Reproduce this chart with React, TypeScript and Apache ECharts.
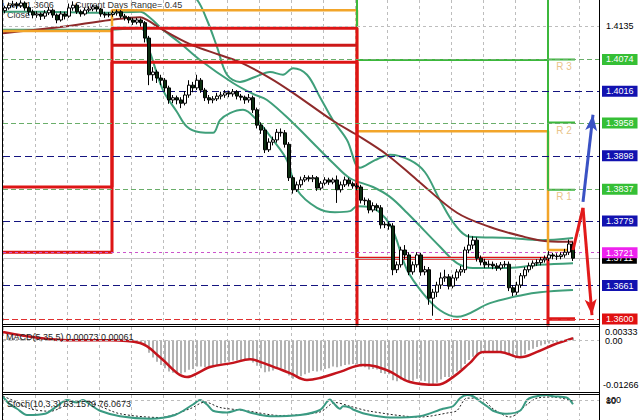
import React, { useEffect, useRef } from "react";
import * as echarts from "echarts";

// OHLC rows: [open, close, low, high]
const candles: number[][] = [
  [1.4163, 1.4168, 1.4158, 1.4172], [1.4168, 1.4173, 1.4165, 1.4178], [1.4173, 1.4175, 1.4169, 1.4181],
  [1.4175, 1.4172, 1.4166, 1.4179], [1.4172, 1.4177, 1.4168, 1.4182], [1.4177, 1.4168, 1.4163, 1.418],
  [1.4168, 1.4161, 1.4155, 1.4171], [1.4161, 1.4155, 1.4149, 1.4165], [1.4155, 1.4157, 1.415, 1.4162],
  [1.4157, 1.4153, 1.4146, 1.416], [1.4153, 1.4159, 1.4148, 1.4164], [1.4159, 1.4164, 1.4155, 1.417],
  [1.4164, 1.4155, 1.415, 1.4167], [1.4155, 1.4146, 1.414, 1.4158], [1.4146, 1.4157, 1.4143, 1.4162],
  [1.4157, 1.4153, 1.4147, 1.4161], [1.4153, 1.4168, 1.415, 1.4176], [1.4168, 1.4173, 1.4163, 1.418],
  [1.4173, 1.4161, 1.4157, 1.4176], [1.4161, 1.4157, 1.4152, 1.4165], [1.4157, 1.4164, 1.4154, 1.4168],
  [1.4164, 1.4166, 1.416, 1.4171], [1.4166, 1.417, 1.4162, 1.4174], [1.417, 1.4166, 1.4161, 1.4173],
  [1.4166, 1.4157, 1.4152, 1.4168], [1.4157, 1.4155, 1.415, 1.4161], [1.4155, 1.4156, 1.4151, 1.416],
  [1.4156, 1.4159, 1.4152, 1.4163], [1.4159, 1.4161, 1.4154, 1.4165], [1.4161, 1.4153, 1.4149, 1.4164],
  [1.4153, 1.415, 1.4145, 1.4157], [1.415, 1.4146, 1.414, 1.4153], [1.4146, 1.4142, 1.4137, 1.415],
  [1.4142, 1.4146, 1.4138, 1.415], [1.4146, 1.4141, 1.4134, 1.4149], [1.4141, 1.4113, 1.4105, 1.4144],
  [1.4113, 1.4046, 1.4027, 1.4117], [1.4046, 1.4051, 1.4035, 1.406], [1.4051, 1.404, 1.4031, 1.4055],
  [1.404, 1.4036, 1.4027, 1.4046], [1.4036, 1.4022, 1.4015, 1.404], [1.4022, 1.4, 1.3993, 1.4026],
  [1.4, 1.4004, 1.3994, 1.4009], [1.4004, 1.4, 1.3992, 1.4008], [1.4, 1.3994, 1.3985, 1.4005],
  [1.3994, 1.4009, 1.399, 1.4016], [1.4009, 1.4027, 1.4004, 1.4036], [1.4027, 1.4022, 1.4014, 1.4033],
  [1.4022, 1.4036, 1.4018, 1.4046], [1.4036, 1.4018, 1.4013, 1.404], [1.4018, 1.4004, 1.3998, 1.4022],
  [1.4004, 1.4, 1.3993, 1.4009], [1.4, 1.4002, 1.3994, 1.4007], [1.4002, 1.4007, 1.3998, 1.4013],
  [1.4007, 1.4009, 1.4001, 1.4015], [1.4009, 1.4013, 1.4004, 1.4018], [1.4013, 1.4011, 1.4005, 1.4017],
  [1.4011, 1.4015, 1.4006, 1.402], [1.4015, 1.4007, 1.4001, 1.4018], [1.4007, 1.4005, 1.3999, 1.4011],
  [1.4005, 1.4, 1.3993, 1.4008], [1.4, 1.4004, 1.3995, 1.4011], [1.4004, 1.3982, 1.3976, 1.4008],
  [1.3982, 1.3954, 1.3948, 1.3986], [1.3954, 1.3945, 1.3938, 1.3959], [1.3945, 1.3909, 1.3903, 1.395],
  [1.3909, 1.3923, 1.3905, 1.393], [1.3923, 1.3927, 1.3917, 1.3933], [1.3927, 1.3941, 1.3922, 1.3947],
  [1.3941, 1.394, 1.3933, 1.3948], [1.394, 1.3919, 1.3913, 1.3945], [1.3919, 1.3858, 1.3852, 1.3923],
  [1.3858, 1.3836, 1.3829, 1.3862], [1.3836, 1.3845, 1.3832, 1.3851], [1.3845, 1.3854, 1.384, 1.386],
  [1.3854, 1.3858, 1.385, 1.3863], [1.3858, 1.3856, 1.3851, 1.3862], [1.3856, 1.3858, 1.385, 1.3863],
  [1.3858, 1.3839, 1.3834, 1.3861], [1.3839, 1.3848, 1.3835, 1.3852], [1.3848, 1.3854, 1.3844, 1.3859],
  [1.3854, 1.385, 1.3845, 1.3858], [1.385, 1.3854, 1.3846, 1.3858], [1.3854, 1.3836, 1.3812, 1.3862],
  [1.3836, 1.3845, 1.3831, 1.3851], [1.3845, 1.3854, 1.3841, 1.386], [1.3854, 1.3847, 1.3842, 1.3858],
  [1.3847, 1.3843, 1.3838, 1.3851], [1.3843, 1.3841, 1.3835, 1.3848], [1.3841, 1.3817, 1.3811, 1.3845],
  [1.3817, 1.3816, 1.3808, 1.3822], [1.3816, 1.3799, 1.3793, 1.382], [1.3799, 1.3807, 1.3795, 1.3813],
  [1.3807, 1.3803, 1.3797, 1.3811], [1.3803, 1.3772, 1.3765, 1.3808], [1.3772, 1.3773, 1.3766, 1.3778],
  [1.3773, 1.377, 1.3763, 1.3777], [1.377, 1.369, 1.368, 1.3775], [1.369, 1.3699, 1.3684, 1.3705],
  [1.3699, 1.3726, 1.3694, 1.3732], [1.3726, 1.3717, 1.3709, 1.3735], [1.3717, 1.3686, 1.368, 1.3722],
  [1.3686, 1.3699, 1.3681, 1.3705], [1.3699, 1.3717, 1.3694, 1.3722], [1.3717, 1.3686, 1.3679, 1.3721],
  [1.3686, 1.369, 1.368, 1.3697], [1.369, 1.3638, 1.3626, 1.3695], [1.3638, 1.3649, 1.3606, 1.3655],
  [1.3649, 1.3662, 1.364, 1.3668], [1.3662, 1.3675, 1.3655, 1.3685], [1.3675, 1.3677, 1.3668, 1.369],
  [1.3677, 1.366, 1.3654, 1.3682], [1.366, 1.3675, 1.3656, 1.3681], [1.3675, 1.3686, 1.367, 1.3691],
  [1.3686, 1.369, 1.3679, 1.3697], [1.369, 1.3726, 1.3684, 1.3732], [1.3726, 1.3735, 1.372, 1.3755],
  [1.3735, 1.3744, 1.3728, 1.3751], [1.3744, 1.3711, 1.3705, 1.3749], [1.3711, 1.3704, 1.3698, 1.3716],
  [1.3704, 1.3699, 1.3693, 1.371], [1.3699, 1.37, 1.3694, 1.3707], [1.37, 1.3697, 1.3691, 1.3705],
  [1.3697, 1.3693, 1.3688, 1.3702], [1.3693, 1.3699, 1.3689, 1.3704], [1.3699, 1.37, 1.3694, 1.3706],
  [1.37, 1.3657, 1.3651, 1.3705], [1.3657, 1.3649, 1.3642, 1.3662], [1.3649, 1.3662, 1.3644, 1.3668],
  [1.3662, 1.3679, 1.3657, 1.3684], [1.3679, 1.369, 1.3674, 1.3695], [1.369, 1.3697, 1.3685, 1.3703],
  [1.3697, 1.3702, 1.3692, 1.3707], [1.3702, 1.3703, 1.3697, 1.3709], [1.3703, 1.3708, 1.3698, 1.3713],
  [1.3708, 1.3711, 1.3703, 1.3716], [1.3711, 1.3717, 1.3706, 1.3724], [1.3717, 1.3715, 1.3709, 1.3721],
  [1.3715, 1.3714, 1.3708, 1.372], [1.3714, 1.3717, 1.3709, 1.3722], [1.3717, 1.3722, 1.3712, 1.3728],
  [1.3722, 1.3737, 1.3717, 1.3745], [1.3737, 1.3711, 1.3706, 1.3741],
];
const slotCount = 149;
const categories = Array.from({ length: slotCount }, (_, i) => String(i + 1));

// indicator lines as [slot position, value]
const maLine = [
  [0, 1.4122], [14.25, 1.4133], [26.75, 1.4146], [34.25, 1.4151], [36, 1.4146], [40, 1.4128],
  [46.75, 1.4102], [54.25, 1.4082], [59.25, 1.4069], [66.75, 1.404], [72.5, 1.4013], [82.5, 1.3962],
  [88.5, 1.3936], [96, 1.39], [103.5, 1.3854], [113.5, 1.3794], [121.75, 1.3768], [129.25, 1.3752],
  [136, 1.3742], [142.5, 1.3741],
];
const bandUpper = [
  [0, 1.4237], [24.25, 1.4237], [36.75, 1.4228], [44.25, 1.421], [48.5, 1.4183], [51, 1.4146],
  [53.5, 1.4097], [56, 1.4046], [59.25, 1.4033], [63, 1.4042], [66.75, 1.4051], [70, 1.4046],
  [72.5, 1.4058], [76, 1.4046], [79.25, 1.4005], [82.5, 1.3963], [86, 1.3927], [89.25, 1.3876],
  [93, 1.389], [96.75, 1.39], [101.75, 1.389], [105.5, 1.3868], [109.25, 1.3817], [113, 1.3772],
  [116.75, 1.375], [126.75, 1.3748], [134.25, 1.3744], [142.5, 1.3748],
];
const bandMiddle = [
  [0, 1.4161], [9.25, 1.4161], [24.25, 1.4159], [34.25, 1.4161], [36.75, 1.415], [40, 1.4128],
  [44.25, 1.4104], [49.25, 1.4073], [57.5, 1.4031], [62.5, 1.4011], [66, 1.4], [72.5, 1.3958],
  [78.5, 1.3914], [82.5, 1.3885], [86.75, 1.3857], [92.5, 1.3841], [96.75, 1.3823], [101, 1.3794],
  [109.25, 1.3732], [113.5, 1.3702], [117.5, 1.3693], [126, 1.3693], [134.25, 1.3699], [142.5, 1.3702],
];
const bandLower = [
  [0, 1.4128], [24.25, 1.4128], [34.25, 1.4131], [36.75, 1.4087], [40, 1.4018], [43.5, 1.3978],
  [46, 1.3951], [49.25, 1.3941], [52.5, 1.394], [54.25, 1.3963], [56.75, 1.3976], [60, 1.3982],
  [63.5, 1.3963], [67.5, 1.3927], [71, 1.389], [73.5, 1.3836], [78.5, 1.3803], [83, 1.3795],
  [86.75, 1.3797], [88.5, 1.3806], [91.75, 1.3804], [96.75, 1.3772], [101, 1.369], [105, 1.3647],
  [109.25, 1.3616], [113.5, 1.3604], [121.75, 1.3629], [130, 1.3644], [134.25, 1.3649], [142.5, 1.3653],
];

// daily level steps
const dayEdges = [0, 27.25, 88.5, 136.25, 143];
const redHigh = [1.3722, 1.4131, 1.358, 1.36];
const redLow = [1.3841, 1.4069, 1.3711, 1.36];
const redMid = [[27.25, 1.41], [88.5, 1.41]];
const orangeLevels = [1.4126, 1.4164, 1.3943, 1.3726];
const pivotEdges = [80, 88.5, 136.25, 143];
const r1Levels = [1.423, 1.4073, 1.3836];
const r2Levels = [1.426, 1.426, 1.3959];
const r3Levels = [1.43, 1.43, 1.4074];
const rNames = ["R 3", "R 2", "R 1"];
const rPrices = [1.4074, 1.3958, 1.3837];
const rLabelSlot = 140.25;

// horizontal price levels
const gridLevel = 1.4135;
const blueLevels = [1.4016, 1.3898, 1.3779, 1.3661];
const greenLevels = [1.4074, 1.3958, 1.3837];
const bidLevel = 1.3711;
const magentaLevel = 1.3721;
const lowLevel = 1.36;

// drawn arrows
const blueArrow = [[145, 1.3814], [147.5, 1.3973]];
const redArrow = [[142.5, 1.3726], [145, 1.3803], [147.25, 1.3607]];

// MACD
const macdHist = [
  0.0004, 0.0005, 0.0006, 0.0005, 0.0006, 0.0004, 0.0002, 0.0, -0.0001, -0.0002, 0.0, 0.0002, 0.0001,
  -0.0002, 0.0, 0.0, 0.0003, 0.0005, 0.0003, 0.0001, 0.0002, 0.0003, 0.0004, 0.0003, 0.0, -0.0001,
  -0.0001, 0.0, 0.0001, 0.0, -0.0001, -0.0002, -0.0003, -0.0002,
  -0.0004, -0.001, -0.003, -0.0042, -0.0052, -0.006, -0.0068, -0.0076, -0.0079, -0.0081,
  -0.0082, -0.0078, -0.0072, -0.007, -0.0064, -0.0064, -0.0066, -0.0066, -0.0064, -0.006,
  -0.0057, -0.0054, -0.0052, -0.0049, -0.0049, -0.0049, -0.005, -0.0048, -0.0054, -0.0062,
  -0.0068, -0.0078, -0.0076, -0.0074, -0.007, -0.0068, -0.0072, -0.0086, -0.0094, -0.0092,
  -0.0088, -0.0083, -0.0079, -0.0075, -0.0076, -0.0074, -0.007, -0.0068, -0.0064, -0.0066,
  -0.0063, -0.006, -0.0059, -0.0058, -0.0058, -0.0064, -0.0066, -0.0071, -0.007, -0.0071,
  -0.008, -0.0082, -0.0083, -0.0098, -0.01, -0.0096, -0.0095, -0.0101, -0.0099, -0.0094,
  -0.0099, -0.01, -0.0112, -0.011, -0.0104, -0.0096, -0.009, -0.009, -0.0084, -0.0076,
  -0.007, -0.0058, -0.0048, -0.004, -0.0036, -0.0032, -0.003, -0.0029, -0.0028, -0.0028,
  -0.0029, -0.003, -0.0034, -0.004, -0.0041, -0.0038, -0.0034, -0.0024, -0.002, -0.0016,
  -0.0012, -0.0009, -0.0007, -0.0005, -0.0004, -0.0002, 0.0001, 0.0005, 0.00073,
];
const macdSignal = [
  [0, 0.0021], [16, 0.0001], [26.75, 0.0001], [34.25, -0.0006], [39.25, -0.0041], [43.5, -0.008],
  [46, -0.009], [49.25, -0.0077], [51.75, -0.0065], [57.5, -0.0055], [61.75, -0.0046], [65, -0.0055],
  [68.5, -0.0068], [71.75, -0.008], [76, -0.0097], [79.25, -0.0092], [84.25, -0.0077], [90, -0.006],
  [96, -0.0073], [101.75, -0.0102], [108.5, -0.0109], [112.5, -0.009], [116.75, -0.0055],
  [120, -0.0028], [124.25, -0.0028], [129.25, -0.0041], [133.5, -0.0028], [137.5, -0.0011],
  [142.5, 0.0006],
];
const macdMax = 0.00333;
const macdMin = -0.01266;

// Stochastic
const stochMain = [
  [0, 92], [1.75, 62], [3.5, 45], [6, 20], [10.5, 25], [13.5, 55], [16, 80], [18.5, 70], [20, 80],
  [21.75, 62], [24.25, 37], [29.25, 15], [36.75, 5], [43, 20], [47.5, 62], [49.25, 80], [51, 62],
  [52.5, 37], [56, 30], [59.25, 42], [61.75, 30], [66.75, 15], [74.25, 20], [79.25, 40], [81.75, 82],
  [82.5, 70], [84.25, 45], [85, 55], [86.75, 50], [87.5, 42], [90.5, 25], [96.75, 10], [104.25, 15],
  [110, 45], [112.5, 55], [114.25, 87], [116, 100], [117.5, 95], [119.25, 75], [121, 55], [122.5, 37],
  [125.5, 25], [129.25, 37], [131, 80], [132.5, 92], [136, 100], [137.5, 95], [140, 92], [141.25, 87],
  [142.5, 63.16],
];
const stochSignal = [
  [0, 95], [3, 75], [6.75, 45], [11.75, 35], [16.75, 65], [20.5, 75], [24.25, 55], [29.25, 25],
  [39.25, 10], [46.75, 45], [50.5, 72], [54.25, 50], [60.5, 38], [69.25, 18], [79.25, 32], [83, 70],
  [86.75, 55], [91.75, 35], [104.25, 12], [111.75, 30], [113.5, 37.5], [116, 87.5], [119.25, 87.5],
  [122.5, 45], [126.75, 12], [131, 62], [133.5, 87.5], [137.5, 92], [142.5, 76.07],
];
const stochLevel = 80;

const headerLow = "Low= 1.3606";
const headerRange = "Current Days Range= 0.45";
const headerClose = "Close";
const macdTitle = "MACD(5,35,5) 0.00073 0.00061";
const stochTitle = "Stoch(10,3,3) 63.1579 76.0673";
const macdTicks = ["0.00333", "0.00", "-0.01266"];
const stochTicks = ["100", "80"];

const FONT = "Liberation Sans";

function stepPoints(edges: number[], levels: number[]) {
  return edges.map((e, k) => [e, levels[Math.min(k, levels.length - 1)]]);
}

function levelItem(v: number, color: string, dash: any, bg: string | null, textColor = "#ffffff") {
  return {
    yAxis: v,
    name: v.toFixed(4),
    lineStyle: { color, type: dash, width: 1 },
    label: {
      show: true,
      position: "end",
      formatter: "{b}",
      distance: 3,
      color: textColor,
      backgroundColor: bg || "transparent",
      padding: [1, 4, 0, 4],
      fontSize: 9,
      lineHeight: 10,
      fontFamily: FONT,
    },
  };
}

export default function App() {
  const ref = useRef<HTMLDivElement>(null);
  useEffect(() => {
    if (!ref.current) return;
    const chart = echarts.init(ref.current, null, { renderer: "svg" });
    const gridLine = { color: "#bdbdbd", type: [3, 3] as any, width: 1 };
    const slotAxis = (gridIndex: number) => ({
      type: "value",
      gridIndex,
      min: 0,
      max: slotCount,
      interval: 8,
      axisLine: { show: false },
      axisTick: { show: false },
      axisLabel: { show: false },
      splitLine: { show: true, lineStyle: gridLine },
    });
    const hiddenY = (gridIndex: number, min: number, max: number) => ({
      type: "value",
      gridIndex,
      min,
      max,
      axisLine: { show: false },
      axisTick: { show: false },
      axisLabel: { show: false },
      splitLine: { show: false },
    });
    const lineBase = { type: "line", xAxisIndex: 1, yAxisIndex: 0, showSymbol: false, silent: true };
    const option: any = {
      animation: false,
      backgroundColor: "#ffffff",
      grid: [
        { left: 3, top: 0, width: 596, height: 324, show: false },
        { left: 3, top: 327, width: 596, height: 65, show: false },
        { left: 3, top: 395, width: 596, height: 40, show: false },
      ],
      xAxis: [
        { type: "category", gridIndex: 0, data: categories, boundaryGap: true, show: false },
        slotAxis(0),
        { type: "category", gridIndex: 1, data: categories, boundaryGap: true, show: false },
        slotAxis(1),
        slotAxis(2),
      ],
      yAxis: [
        hiddenY(0, 1.35909, 1.41825),
        hiddenY(1, macdMin, macdMax),
        hiddenY(2, 0, 100),
      ],
      series: [
        {
          ...lineBase,
          data: [],
          z: 1,
          markLine: {
            silent: true,
            symbol: ["none", "none"],
            precision: 4,
            data: [
              levelItem(gridLevel, "#bdbdbd", [3, 3], null, "#000000"),
              ...greenLevels.map((v) => levelItem(v, "#6aae6a", [5, 3], "#35bf35")),
              ...blueLevels.map((v) => levelItem(v, "#141480", [7, 4], "#1212b0")),
              levelItem(bidLevel, "#c4c4c4", "solid", "#000000"),
              levelItem(magentaLevel, "#cc55cc", [3, 3], "#ee22ee"),
              levelItem(lowLevel, "#e03030", [6, 3], "#e01010"),
            ],
          },
        },
        { ...lineBase, data: bandUpper, smooth: 0.35, lineStyle: { color: "#3f9f7a", width: 2 }, z: 3 },
        { ...lineBase, data: bandMiddle, smooth: 0.35, lineStyle: { color: "#3f9f7a", width: 2 }, z: 3 },
        { ...lineBase, data: bandLower, smooth: 0.35, lineStyle: { color: "#3f9f7a", width: 2 }, z: 3 },
        { ...lineBase, data: maLine, smooth: 0.35, lineStyle: { color: "#8e2a2a", width: 2 }, z: 3 },
        { ...lineBase, step: "end", data: stepPoints(dayEdges, orangeLevels), lineStyle: { color: "#f2a52a", width: 2.5 }, z: 4 },
        { ...lineBase, step: "end", data: stepPoints(pivotEdges, r3Levels), lineStyle: { color: "#3cb83c", width: 2 }, z: 4 },
        { ...lineBase, step: "end", data: stepPoints(pivotEdges, r2Levels), lineStyle: { color: "#3cb83c", width: 2 }, z: 4 },
        { ...lineBase, step: "end", data: stepPoints(pivotEdges, r1Levels), lineStyle: { color: "#3cb83c", width: 2 }, z: 4 },
        { ...lineBase, step: "end", data: stepPoints(dayEdges, redHigh), lineStyle: { color: "#dd1515", width: 3 }, z: 4 },
        { ...lineBase, step: "end", data: stepPoints(dayEdges, redLow), lineStyle: { color: "#dd1515", width: 3 }, z: 4 },
        { ...lineBase, data: redMid, lineStyle: { color: "#cc1818", width: 3 }, z: 4 },
        {
          type: "scatter",
          xAxisIndex: 1,
          yAxisIndex: 0,
          silent: true,
          symbolSize: 1,
          itemStyle: { color: "transparent" },
          data: rPrices.map((p, k) => ({ value: [rLabelSlot, p], name: rNames[k] })),
          label: {
            show: true,
            position: "bottom",
            distance: 2,
            formatter: "{b}",
            color: "#e2b36a",
            fontSize: 10,
            fontFamily: FONT,
          },
          z: 4,
        },
        {
          type: "candlestick",
          xAxisIndex: 0,
          yAxisIndex: 0,
          data: candles,
          barWidth: 3,
          silent: true,
          itemStyle: {
            color: "#ffffff",
            color0: "#0c2e10",
            borderColor: "#000000",
            borderColor0: "#000000",
            borderWidth: 1,
          },
          z: 6,
        },
        {
          ...lineBase,
          data: redArrow.slice(0, 2),
          lineStyle: { color: "#e21a1a", width: 3 },
          z: 7,
          markLine: {
            silent: true,
            symbol: ["none", "arrow"],
            symbolSize: [9, 16],
            label: { show: false },
            lineStyle: { color: "#e21a1a", width: 3, type: "solid" },
            data: [[{ coord: redArrow[1] }, { coord: redArrow[2] }]],
          },
        },
        {
          ...lineBase,
          data: [],
          z: 7,
          markLine: {
            silent: true,
            symbol: ["none", "arrow"],
            symbolSize: [9, 16],
            label: { show: false },
            lineStyle: { color: "#3a52c4", width: 3, type: "solid" },
            data: [[{ coord: blueArrow[0] }, { coord: blueArrow[1] }]],
          },
        },
        {
          type: "bar",
          xAxisIndex: 2,
          yAxisIndex: 1,
          data: macdHist,
          barWidth: 2,
          silent: true,
          itemStyle: { color: "#b2b2b2" },
          markLine: {
            silent: true,
            symbol: ["none", "none"],
            label: { show: false },
            lineStyle: { color: "#bdbdbd", type: [3, 3], width: 1 },
            data: [{ yAxis: 0 }],
          },
          z: 2,
        },
        {
          type: "line",
          xAxisIndex: 3,
          yAxisIndex: 1,
          data: macdSignal,
          smooth: 0.4,
          showSymbol: false,
          silent: true,
          lineStyle: { color: "#c4141c", width: 2.5 },
          z: 4,
        },
        {
          type: "line",
          xAxisIndex: 4,
          yAxisIndex: 2,
          data: stochSignal,
          smooth: 0.3,
          showSymbol: false,
          silent: true,
          lineStyle: { color: "#222222", width: 1, type: [2, 2] },
          markLine: {
            silent: true,
            symbol: ["none", "none"],
            label: { show: false },
            lineStyle: { color: "#bdbdbd", type: [3, 3], width: 1 },
            data: [{ yAxis: stochLevel }],
          },
          z: 3,
        },
        {
          type: "line",
          xAxisIndex: 4,
          yAxisIndex: 2,
          data: stochMain,
          smooth: 0.3,
          showSymbol: false,
          silent: true,
          lineStyle: { color: "#3a9a82", width: 2 },
          z: 4,
        },
      ],
      graphic: [
        { type: "text", x: 2, y: 5, z: 0, style: { text: headerLow, font: `9px "${FONT}"`, fill: "#333333", verticalAlign: "middle" } },
        { type: "text", x: 75, y: 5, z: 0, style: { text: headerRange, font: `9px "${FONT}"`, fill: "#333333", verticalAlign: "middle" } },
        { type: "text", x: 7, y: 15, z: 0, style: { text: headerClose, font: `9px "${FONT}"`, fill: "#333333", verticalAlign: "middle" } },
        { type: "text", x: 6, y: 337, z: 10, style: { text: macdTitle, font: `9px "${FONT}"`, fill: "#222222", verticalAlign: "middle" } },
        { type: "text", x: 7, y: 404, z: 10, style: { text: stochTitle, font: `9px "${FONT}"`, fill: "#222222", verticalAlign: "middle" } },
        { type: "text", x: 605, y: 332, z: 10, style: { text: macdTicks[0], font: `9px "${FONT}"`, fill: "#000000", verticalAlign: "middle" } },
        { type: "text", x: 605, y: 341, z: 10, style: { text: macdTicks[1], font: `9px "${FONT}"`, fill: "#000000", verticalAlign: "middle" } },
        { type: "text", x: 603, y: 385, z: 10, style: { text: macdTicks[2], font: `9px "${FONT}"`, fill: "#000000", verticalAlign: "middle" } },
        { type: "text", x: 606, y: 400, z: 10, style: { text: stochTicks[0], font: `9px "${FONT}"`, fill: "#000000", verticalAlign: "middle" } },
        { type: "text", x: 606, y: 401, z: 10, style: { text: stochTicks[1], font: `9px "${FONT}"`, fill: "#000000", verticalAlign: "middle" } },
        { type: "line", z: 20, shape: { x1: 2.5, y1: 0, x2: 2.5, y2: 420 }, style: { stroke: "#000", lineWidth: 1 } },
        { type: "line", z: 20, shape: { x1: 599.5, y1: 0, x2: 599.5, y2: 420 }, style: { stroke: "#000", lineWidth: 1 } },
        { type: "line", z: 20, shape: { x1: 2.5, y1: 324.5, x2: 599.5, y2: 324.5 }, style: { stroke: "#000", lineWidth: 1 } },
        { type: "line", z: 20, shape: { x1: 2.5, y1: 326.5, x2: 599.5, y2: 326.5 }, style: { stroke: "#000", lineWidth: 1 } },
        { type: "line", z: 20, shape: { x1: 2.5, y1: 392.5, x2: 599.5, y2: 392.5 }, style: { stroke: "#000", lineWidth: 1 } },
        { type: "line", z: 20, shape: { x1: 2.5, y1: 394.5, x2: 599.5, y2: 394.5 }, style: { stroke: "#000", lineWidth: 1 } },
      ],
    };
    chart.setOption(option);
    return () => chart.dispose();
  }, []);
  return (
    <div
      ref={ref}
      style={{ position: "fixed", left: 0, top: 0, width: 640, height: 420, background: "#fff" }}
    />
  );
}
